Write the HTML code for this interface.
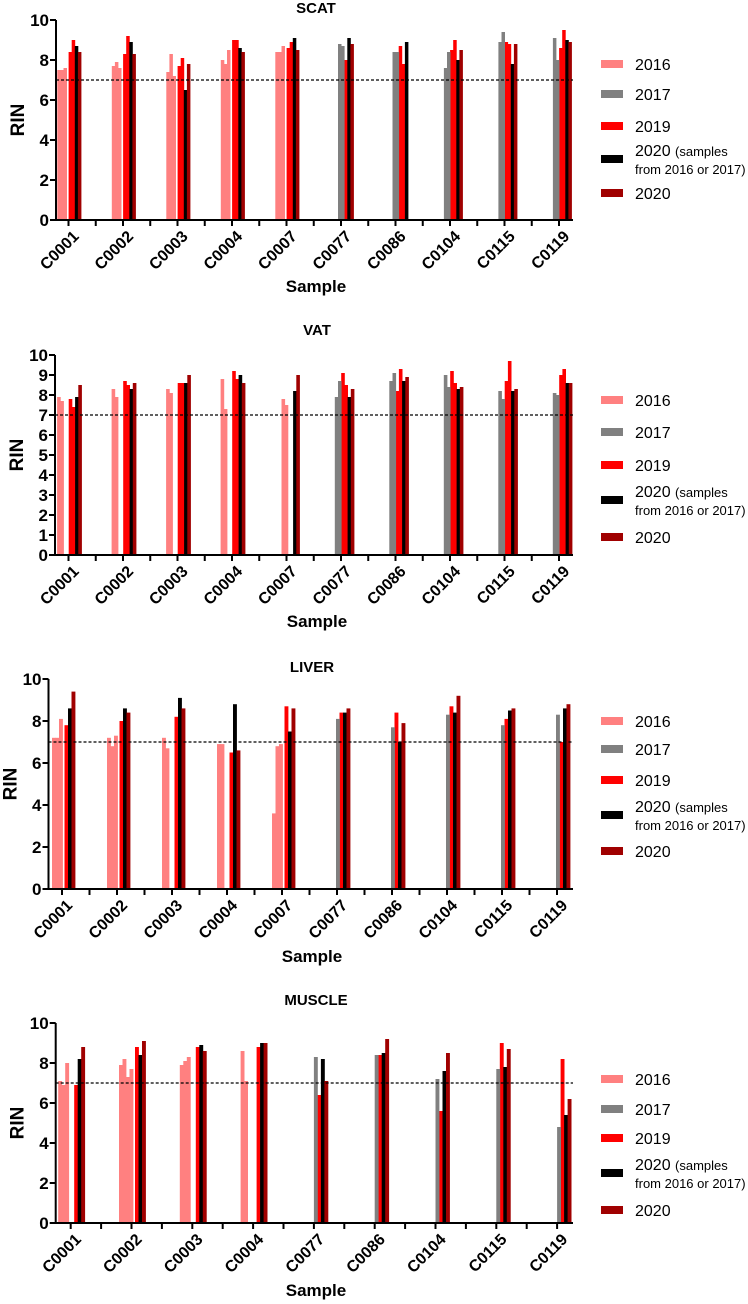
<!DOCTYPE html>
<html><head><meta charset="utf-8">
<style>
html,body{margin:0;padding:0;background:#fff;}
svg{display:block;font-family:"Liberation Sans",Arial,sans-serif;}
</style></head>
<body>
<svg id="fig" width="748" height="1304" viewBox="0 0 748 1304" xmlns="http://www.w3.org/2000/svg"></svg>
<script>
// ---------- data ----------
const categories = ["C0001","C0002","C0003","C0004","C0007","C0077","C0086","C0104","C0115","C0119"];
const muscleCategories = ["C0001","C0002","C0003","C0004","C0077","C0086","C0104","C0115","C0119"];
const samples2016 = ["C0001","C0002","C0003","C0004","C0007"];
const yTicksBy2 = [0,2,4,6,8,10];
const yTicksBy1 = [0,1,2,3,4,5,6,7,8,9,10];
const thresholdRIN = 7;

const scatEarly = [[7.5,7.5,7.6],[7.7,7.9,7.6],[7.4,8.3,7.2],[8.0,7.8,8.5],[8.4,8.4,8.7],[8.8,8.7],[8.4,8.4],[7.6,8.4],[8.9,9.4],[9.1,8.0]];
const scat2019 = [[8.4,9.0],[8.3,9.2],[7.7,8.1],[9.0,9.0],[8.6,8.9],[8.0],[8.7,7.8],[8.5,9.0],[8.9,8.8],[8.6,9.5]];
const scat2020b = [8.7,8.9,6.5,8.6,9.1,9.1,8.9,8.0,7.8,9.0];
const scat2020 = [8.4,8.3,7.8,8.4,8.5,8.8,null,8.5,8.8,8.9];

const vatEarly = [[7.9,7.7],[8.3,7.9],[8.3,8.1],[8.8,7.3],[7.8,7.5],[7.9,8.7],[8.7,9.1],[9.0,8.4],[8.2,7.8],[8.1,8.0]];
const vat2019 = [[7.8,7.4],[8.7,8.5],[8.6,8.6],[9.2,8.8],[],[9.1,8.5],[8.2,9.3],[9.2,8.6],[8.7,9.7],[9.0,9.3]];
const vat2020b = [7.9,8.3,8.6,9.0,8.2,7.9,8.7,8.3,8.2,8.6];
const vat2020 = [8.5,8.6,9.0,8.6,9.0,8.3,8.9,8.4,8.3,8.6];

const liverEarly = [[7.2,7.2,8.1],[7.2,6.8,7.3],[7.2,6.7],[6.9,6.9],[3.6,6.8,6.9],[8.1],[7.7],[8.3],[7.8],[8.3]];
const liver2019 = [[7.8],[8.0],[8.2],[6.5],[8.7],[8.4],[8.4],[8.7],[8.1],[7.0]];
const liver2020b = [8.6,8.6,9.1,8.8,7.5,8.4,7.0,8.4,8.5,8.6];
const liver2020 = [9.4,8.4,8.6,6.6,8.6,8.6,7.9,9.2,8.6,8.8];

const muscleEarly = [[7.1,6.9,8.0],[7.9,8.2,7.3,7.7],[7.9,8.1,8.3],[8.6,7.1],[8.3],[8.4],[7.2],[7.7],[4.8]];
const muscle2019 = [[6.9],[8.8],[8.8],[8.8],[6.4],[8.4],[5.6],[9.0],[8.2]];
const muscle2020b = [8.2,8.4,8.9,9.0,8.2,8.5,7.6,7.8,5.4];
const muscle2020 = [8.8,9.1,8.6,9.0,7.1,9.2,8.5,8.7,6.2];

const legendLabels = ["2016","2017","2019","2020","2020"];
const COLORS = {p16:"#ff8080", g17:"#808080", r19:"#ff0000", b20:"#000000", d20:"#a00000"};

// ---------- drawing ----------
const NS = "http://www.w3.org/2000/svg";
const svg = document.getElementById("fig");
function mk(tag, attrs, parent){
  const e = document.createElementNS(NS, tag);
  for (const k in attrs) e.setAttribute(k, attrs[k]);
  (parent||svg).appendChild(e);
  return e;
}

function drawPanel(cfg, cats, early, r19, b20, d20){
  const g = mk("g", {});
  
  
  const yS = v => cfg.bottom - v / 10 * (cfg.bottom - cfg.top);
  const xC = i => cfg.c0 + i * cfg.spacing;

  const t = mk("text", {x: cfg.titleX, y: cfg.titleY, "text-anchor":"middle", "font-size":15, "font-weight":"bold"}, g);
  t.textContent = cfg.title;
  
  

  const yt = mk("text", {x:0, y:0, "text-anchor":"middle", "font-size":19, "font-weight":"bold",
    transform:`translate(${cfg.axisX-32},${(cfg.top+cfg.bottom)/2}) rotate(-90)`}, g);
  yt.textContent = "RIN";
  
  

  cats.forEach((c, i) => {
    const cx = xC(i);
    const w = cfg.w;
    const right = [];
    r19[i].forEach(v => right.push([COLORS.r19, v, "2019"]));
    if (b20[i] != null) right.push([COLORS.b20, b20[i], "2020-from-2016-2017"]);
    if (d20[i] != null) right.push([COLORS.d20, d20[i], "2020"]);
    const endX = cx + cfg.rightEnd;
    const startX = endX - right.length * w;
    right.forEach((b, k) => {
      const r = mk("rect", {x: startX + k*w, y: yS(b[1]), width: w+0.4, height: yS(0)-yS(b[1]), fill: b[0]}, g);
      
      
    });
    const is16 = samples2016.includes(c);
    const ev = early[i];
    let ex0;
    if (is16) ex0 = startX - 2 - cfg.pinkSlots * w;
    else ex0 = startX - ev.length * w;
    ev.forEach((v, k) => {
      const r = mk("rect", {x: ex0 + k*w, y: yS(v), width: w+0.4, height: yS(0)-yS(v), fill: is16 ? COLORS.p16 : COLORS.g17}, g);
      
      
    });
    const lx = cx + 4, ly = cfg.bottom + 10;
    const tl = mk("text", {x:lx, y:ly, "text-anchor":"end", "font-size":16, "font-weight":"bold",
      transform:`rotate(-45 ${lx} ${ly})`, "dominant-baseline":"hanging"}, g);
    tl.textContent = c;
    
    
  });

  const th = mk("line", {x1: cfg.axisX, x2: cfg.endX, y1: yS(thresholdRIN), y2: yS(thresholdRIN), stroke:"#000", "stroke-width":1.2, "stroke-dasharray":"3,2"}, g);
  
  

  const ya = mk("line", {x1: cfg.axisX, x2: cfg.axisX, y1: cfg.top, y2: cfg.bottom+1, stroke:"#000", "stroke-width":2}, g);
  
  
  const xa = mk("line", {x1: cfg.axisX-1, x2: cfg.endX, y1: cfg.bottom, y2: cfg.bottom, stroke:"#000", "stroke-width":2}, g);
  
  

  cfg.yTicks.forEach(v => {
    mk("line", {x1: cfg.axisX-6, x2: cfg.axisX, y1: yS(v), y2: yS(v), stroke:"#000", "stroke-width":2}, g);
    const tt = mk("text", {x: cfg.axisX-7, y: yS(v)+6, "text-anchor":"end", "font-size":17, "font-weight":"bold"}, g);
    tt.textContent = v;
    
    
  });
  for (let i = 0; i < cats.length; i++) {
    mk("line", {x1: xC(i), x2: xC(i), y1: cfg.bottom, y2: cfg.bottom+6, stroke:"#000", "stroke-width":2}, g);
    const mx = xC(i) + cfg.spacing/2;
    if (mx < cfg.endX - 2) mk("line", {x1: mx, x2: mx, y1: cfg.bottom, y2: cfg.bottom+6, stroke:"#000", "stroke-width":2}, g);
  }

  const xt = mk("text", {x: cfg.titleX, y: cfg.sampleY, "text-anchor":"middle", "font-size":17, "font-weight":"bold"}, g);
  xt.textContent = "Sample";
  
  

  const lg = mk("g", {}, g);
  
  
  const lcols = [COLORS.p16, COLORS.g17, COLORS.r19, COLORS.b20, COLORS.d20];
  cfg.legendY.forEach((ly, k) => {
    const e = mk("g", {}, lg);
    
    
    mk("rect", {x: 601, y: ly-4, width: 22, height: 8, fill: lcols[k]}, e);
    if (k === 3) {
      const a = mk("text", {x: 635, y: ly-3, "font-size":16}, e);
      a.textContent = legendLabels[k] + " ";
      const s = mk("tspan", {"font-size":13}, a);
      s.textContent = "(samples";
      const b = mk("text", {x: 635, y: ly+15, "font-size":13}, e);
      b.textContent = "from 2016 or 2017)";
    } else {
      const a = mk("text", {x: 635, y: ly+6, "font-size":16}, e);
      a.textContent = legendLabels[k];
    }
  });
}

drawPanel({key:"scat", title:"SCAT", titleX:316, titleY:13, sampleY:292, top:20, bottom:220, axisX:56, endX:573,
  c0:68.5, spacing:54.5, w:3.1, rightEnd:12.5, pinkSlots:3, yTicks:yTicksBy2,
  legendY:[64,94,126,159,193]}, categories, scatEarly, scat2019, scat2020b, scat2020);

drawPanel({key:"vat", title:"VAT", titleX:317, titleY:335, sampleY:627, top:355, bottom:555, axisX:55, endX:573,
  c0:68.5, spacing:54.5, w:3.2, rightEnd:13, pinkSlots:3, yTicks:yTicksBy1,
  legendY:[400,432,465,500,537]}, categories, vatEarly, vat2019, vat2020b, vat2020);

drawPanel({key:"liver", title:"LIVER", titleX:312, titleY:672, sampleY:962, top:679, bottom:889, axisX:48.5, endX:573,
  c0:62, spacing:55, w:3.5, rightEnd:13, pinkSlots:3, yTicks:yTicksBy2,
  legendY:[721,749,780,815,851]}, categories, liverEarly, liver2019, liver2020b, liver2020);

drawPanel({key:"muscle", title:"MUSCLE", titleX:316, titleY:1005, sampleY:1296, top:1023, bottom:1223, axisX:55.7, endX:573,
  c0:70.7, spacing:60.8, w:3.5, rightEnd:14, pinkSlots:4, yTicks:yTicksBy2,
  legendY:[1079,1109,1138,1173,1210]}, muscleCategories, muscleEarly, muscle2019, muscle2020b, muscle2020);
</script>
</body></html>
